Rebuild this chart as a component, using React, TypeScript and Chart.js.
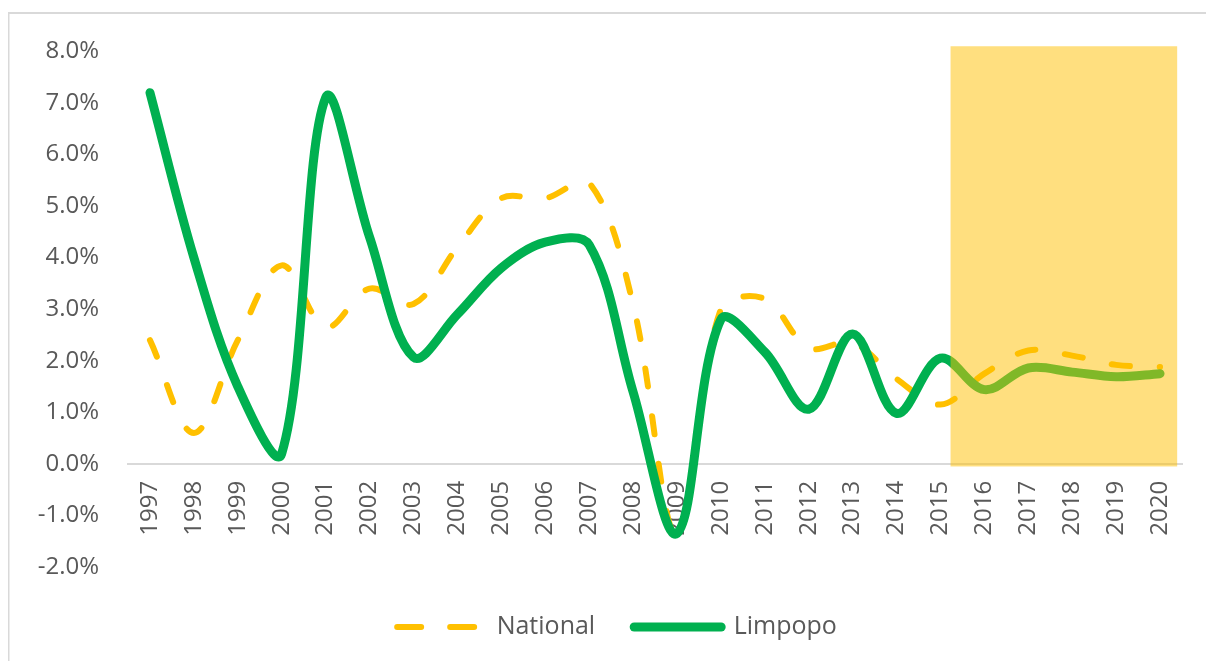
import React, { useEffect, useRef } from 'react';
import { Chart, registerables } from 'chart.js';

Chart.register(...registerables);

const years = ['1997', '1998', '1999', '2000', '2001', '2002', '2003', '2004', '2005', '2006', '2007', '2008',
  '2009', '2010', '2011', '2012', '2013', '2014', '2015', '2016', '2017', '2018', '2019', '2020'];

const national = [2.4, 0.6, 2.4, 3.85, 2.65, 3.4, 3.1, 4.2, 5.15, 5.15, 5.45, 3.1,
  -1.4, 3.0, 3.2, 2.25, 2.35, 1.65, 1.15, 1.75, 2.2, 2.1, 1.92, 1.88];

const limpopo = [7.2, 4.0, 1.5, 0.2, 7.1, 4.4, 2.07, 2.9, 3.8, 4.3, 4.25, 1.4,
  -1.35, 2.8, 2.17, 1.06, 2.52, 0.98, 2.05, 1.44, 1.86, 1.78, 1.69, 1.75];

const yMin = -2;
const yMax = 8;
const yStep = 1;

// forecast band (category index range and value range)
const bandFrom = 18.23;
const bandTo = 23.39;
const bandTop = 8.1;
const bandBottom = -0.05;

const FONT = "'Open Sans', sans-serif";
const TEXT = '#595959';

const framePlugin = {
  id: 'frame',
  beforeDraw(chart: any) {
    const { ctx, width, height } = chart;
    ctx.save();
    ctx.fillStyle = '#d9d9d9';
    ctx.fillRect(0, 4, width, 2);
    ctx.fillRect(0, 4, 1.5, height);
    ctx.restore();
  },
};

const bandPlugin = {
  id: 'band',
  afterDatasetsDraw(chart: any) {
    const { ctx, scales } = chart;
    const x = scales.x;
    const y = scales.y;
    const l = x.getPixelForValue(bandFrom);
    const r = x.getPixelForValue(bandTo);
    const t = y.getPixelForValue(bandTop);
    const b = y.getPixelForValue(bandBottom);
    ctx.save();
    ctx.fillStyle = 'rgba(255,192,0,0.5)';
    ctx.fillRect(l, t, r - l, b - t);
    ctx.restore();
  },
};

export default function App() {
  const ref = useRef<HTMLCanvasElement>(null);

  useEffect(() => {
    if (!ref.current) return;
    const chart = new Chart(ref.current, {
      type: 'line',
      data: {
        labels: years,
        datasets: [
          {
            label: 'National',
            data: national,
            borderColor: '#FFC000',
            backgroundColor: '#FFC000',
            borderWidth: 6,
            borderDash: [18, 30],
            borderCapStyle: 'round',
            pointRadius: 0,
            tension: 0.35,
            fill: false,
            order: 1,
          },
          {
            label: 'Limpopo',
            data: limpopo,
            borderColor: '#00B050',
            backgroundColor: '#00B050',
            borderWidth: 9,
            borderCapStyle: 'round',
            borderJoinStyle: 'round',
            pointRadius: 0,
            tension: 0.35,
            fill: false,
            order: 0,
          },
        ],
      },
      options: {
        responsive: false,
        animation: false,
        devicePixelRatio: 1,
        layout: { padding: { left: 16, right: 4, top: 38, bottom: 11.5 } },
        scales: {
          x: {
            type: 'category',
            offset: true,
            position: { y: 0 } as any,
            grid: { display: false, drawTicks: false, offset: true },
            border: { display: true, color: '#d9d9d9', width: 2 },
            ticks: {
              autoSkip: false,
              minRotation: 90,
              maxRotation: 90,
              padding: 17,
              color: TEXT,
              font: { family: FONT, size: 24 },
            },
          },
          y: {
            min: yMin,
            max: yMax,
            grid: { display: false, drawTicks: false },
            border: { display: false },
            afterFit: (scale: any) => { scale.width = 104; },
            ticks: {
              stepSize: yStep,
              padding: 29,
              color: TEXT,
              font: { family: FONT, size: 24 },
              callback: (v: any) => Number(v).toFixed(1) + '%',
            },
          },
          yRightSpace: {
            type: 'linear',
            position: 'right',
            display: true,
            grid: { display: false, drawTicks: false },
            border: { display: false },
            ticks: { display: false },
            afterFit: (scale: any) => { scale.width = 28; },
          },
        },
        plugins: {
          tooltip: { enabled: false },
          legend: {
            position: 'bottom',
            title: { display: true, text: '', padding: 0, font: { size: 8.5, lineHeight: 1 } },
            labels: {
              usePointStyle: true,
              pointStyle: 'line',
              pointStyleWidth: 87,
              padding: 39,
              color: TEXT,
              font: { family: FONT, size: 25 },
              sort: (a: any, b: any) => a.datasetIndex - b.datasetIndex,
              generateLabels: (c: any) => {
                const items = (Chart as any).defaults.plugins.legend.labels.generateLabels(c);
                items.forEach((it: any) => {
                  const ds = c.data.datasets[it.datasetIndex];
                  it.lineCap = 'round';
                  it.lineWidth = ds.borderWidth;
                  it.strokeStyle = ds.borderColor;
                  it.lineDash = ds.borderDash ? [24, 29] : [];
                });
                return items;
              },
            },
          },
        },
      },
      plugins: [framePlugin, bandPlugin],
    });
    return () => chart.destroy();
  }, []);

  return (
    <div>
      <canvas ref={ref} width={1206} height={653} style={{ display: 'block', width: 1206, height: 653 }} />
    </div>
  );
}
